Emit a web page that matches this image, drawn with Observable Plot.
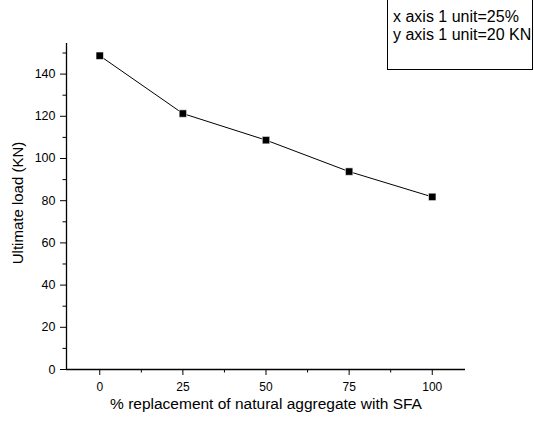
<!DOCTYPE html>
<html>
<head>
<meta charset="utf-8">
<script src="https://cdn.jsdelivr.net/npm/d3@7"></script>
<script src="https://cdn.jsdelivr.net/npm/@observablehq/plot@0.6"></script>
<style>
  html, body { margin: 0; padding: 0; background: #fff; overflow: hidden; }
  #wrap { position: relative; width: 534px; height: 421px; font-family: "Liberation Sans", Arial, sans-serif; }
  #wrap svg { display: block; }
  #note { position: absolute; left: 387px; top: -1px; width: 146px; height: 71px; box-sizing: border-box;
          border: 1px solid #000; font-size: 16px; line-height: 18px; padding: 8px 0 0 5px; color: #000; white-space: nowrap; }
</style>
</head>
<body>
<div id="wrap"><div id="note"></div></div>
<script>
const replacement = [0, 25, 50, 75, 100];
const ultimateLoad = [148.7, 121.3, 108.7, 93.8, 81.8];
const xTicks = [0, 25, 50, 75, 100];
const xMinorTicks = [12.5, 37.5, 62.5, 87.5];
const yTicks = [0, 20, 40, 60, 80, 100, 120, 140];
const yMinorTicks = [10, 30, 50, 70, 90, 110, 130, 150];
const noteLines = ["x axis 1 unit=25%", "y axis 1 unit=20 KN"];
const xTitle = "% replacement of natural aggregate with SFA";
const yTitle = "Ultimate load (KN)";

const data = replacement.map((x, i) => ({x, y: ultimateLoad[i]}));

const chart = Plot.plot({
  width: 534,
  height: 421,
  marginLeft: 66,
  marginRight: 69,
  marginTop: 43,
  marginBottom: 52,
  style: {fontFamily: "Liberation Sans, Arial, sans-serif", fontSize: "12px", color: "#000", background: "#fff", overflow: "visible"},
  x: {domain: [-10, 110]},
  y: {domain: [0, 154.5]},
  marks: [
    Plot.axisX({ticks: xTicks, tickSize: 6, tickPadding: 7, fontSize: 12, label: null}),
    Plot.axisX({ticks: xMinorTicks, tickSize: 3.5, text: null, label: null}),
    Plot.axisY({ticks: yTicks, tickSize: 6, tickPadding: 5, fontSize: 12.5, label: null}),
    Plot.axisY({ticks: yMinorTicks, tickSize: 3.5, text: null, label: null}),
    Plot.ruleX([-10], {stroke: "#000", strokeWidth: 1.3}),
    Plot.ruleY([0], {stroke: "#000", strokeWidth: 1.3}),
    Plot.text([xTitle], {frameAnchor: "bottom", lineAnchor: "middle", textAnchor: "middle", dy: 35, fontSize: 15.5}),
    Plot.text([yTitle], {frameAnchor: "left", lineAnchor: "middle", textAnchor: "middle", dx: -48, dy: -3.5, rotate: -90, fontSize: 15}),
    Plot.line(data, {x: "x", y: "y", stroke: "#000", strokeWidth: 1}),
    Plot.dot(data, {x: "x", y: "y", symbol: "square", r: 4.2, fill: "#000", stroke: "#fff", strokeWidth: 0.6})
  ]
});
document.getElementById("wrap").prepend(chart);
document.getElementById("note").innerHTML = noteLines.map(s => `<div>${s}</div>`).join("");
</script>
</body>
</html>
